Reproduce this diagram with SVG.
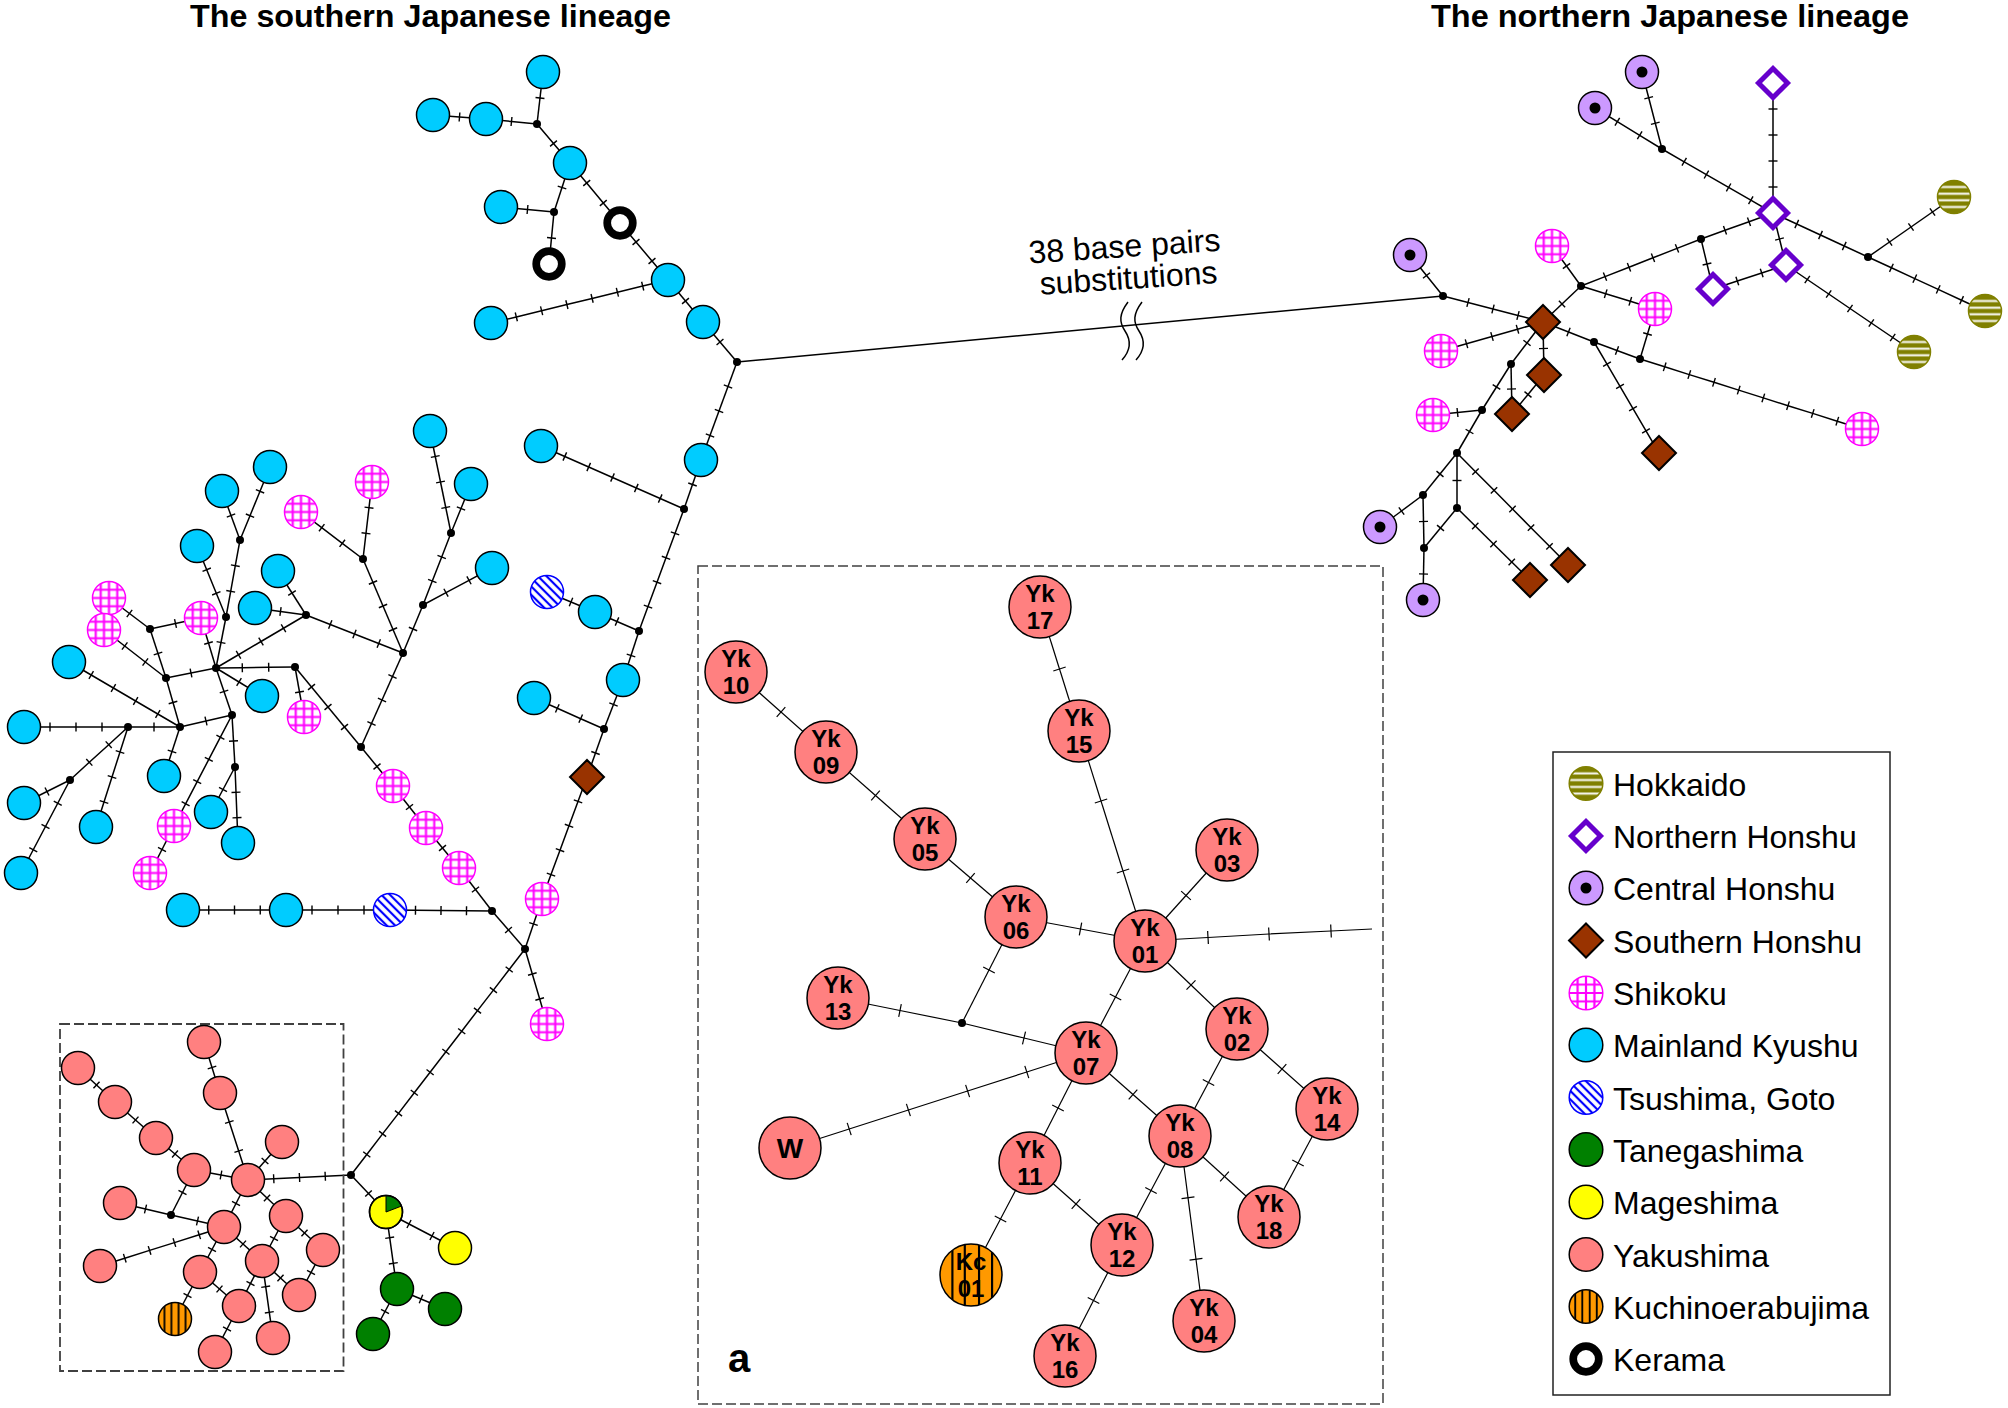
<svg xmlns="http://www.w3.org/2000/svg" xmlns:xlink="http://www.w3.org/1999/xlink" width="2008" height="1408" viewBox="0 0 2008 1408">
<style>
.ln{fill:none;stroke:#000;stroke-width:1.5;marker-mid:url(#tk)}
.li{fill:none;stroke:#000;stroke-width:1.2;marker-mid:url(#tki)}
.ky{fill:#00CCFF;stroke:#000;stroke-width:1.5}
.sk{fill:url(#grid);stroke:#FF00FF;stroke-width:1.5}
.ts{fill:url(#diag);stroke:#0000FF;stroke-width:1.5}
.ho{fill:url(#hstr);stroke:#808000;stroke-width:1.5}
.ch{fill:#CC99FF;stroke:#000;stroke-width:1.5}
.sh{fill:#993300;stroke:#000;stroke-width:2}
.nh{fill:#fff;stroke:#6600CC;stroke-width:5}
.ta{fill:#008000;stroke:#000;stroke-width:1.5}
.mg{fill:#FFFF00;stroke:#000;stroke-width:1.5}
.yk{fill:#FF8080;stroke:#000;stroke-width:1.5}
.kc{fill:url(#vstr);stroke:#000;stroke-width:1.5}
.kc2{fill:url(#vstr2);stroke:#000;stroke-width:1.5}
.ke{fill:#fff;stroke:#000;stroke-width:7.7}
.jd{fill:#000}
.lab{font-family:"Liberation Sans",Arial,sans-serif;font-weight:bold;font-size:24px;text-anchor:middle;fill:#000}
.labw{font-family:"Liberation Sans",Arial,sans-serif;font-weight:bold;font-size:28px;text-anchor:middle;fill:#000}
.leg{font-family:"Liberation Sans",Arial,sans-serif;font-size:32px;fill:#000}
.ttl{font-family:"Liberation Sans",Arial,sans-serif;font-weight:bold;font-size:31px;fill:#000}
.box{fill:none;stroke:#404040;stroke-width:1.8;stroke-dasharray:10 4}
</style>
<defs>
<marker id="tk" markerUnits="userSpaceOnUse" markerWidth="12" markerHeight="12" viewBox="-6 -6 12 12" refX="0" refY="0" orient="auto" overflow="visible"><path d="M0,-4.5V4.5" stroke="#000" stroke-width="1.4"/></marker>
<marker id="tki" markerUnits="userSpaceOnUse" markerWidth="16" markerHeight="16" viewBox="-8 -8 16 16" refX="0" refY="0" orient="auto" overflow="visible"><path d="M0,-6.5V6.5" stroke="#000" stroke-width="1.2"/></marker>
<pattern id="grid" width="1" height="1" patternContentUnits="objectBoundingBox"><rect width="1" height="1" fill="#fff"/><path d="M.25,0V1M.5,0V1M.75,0V1M0,.25H1M0,.5H1M0,.75H1" stroke="#FF00FF" stroke-width=".065"/></pattern>
<pattern id="hstr" width="1" height="1" patternContentUnits="objectBoundingBox"><rect width="1" height="1" fill="#808000"/><path d="M0,.2H1M0,.4H1M0,.6H1M0,.8H1" stroke="#fff" stroke-width=".06"/></pattern>
<pattern id="vstr" width="1" height="1" patternContentUnits="objectBoundingBox"><rect width="1" height="1" fill="#FF9900"/><path d="M.18,0V1M.39,0V1M.61,0V1M.82,0V1" stroke="#000" stroke-width=".055"/></pattern>
<pattern id="vstr2" width="1" height="1" patternContentUnits="objectBoundingBox"><rect width="1" height="1" fill="#FF9900"/><path d="M.2,0V1M.4,0V1M.63,0V1M.84,0V1" stroke="#000" stroke-width=".035"/></pattern>
<pattern id="diag" patternUnits="userSpaceOnUse" width="6" height="6" patternTransform="rotate(-45)"><rect width="6" height="6" fill="#fff"/><path d="M3,0V6" stroke="#0000FF" stroke-width="2.2"/></pattern>
<path id="dSH" d="M0,-17L17,0L0,17L-17,0Z"/>
<path id="dNH" d="M0,-14.5L14.5,0L0,14.5L-14.5,0Z"/>
</defs>
<rect width="2008" height="1408" fill="#fff"/>

<text class="ttl" x="190" y="27" textLength="481" lengthAdjust="spacingAndGlyphs">The southern Japanese lineage</text>
<text class="ttl" x="1431" y="27" textLength="478" lengthAdjust="spacingAndGlyphs">The northern Japanese lineage</text>

<g id="connectors">
<path class="ln" d="M543,72 L540,98 L537,124"/>
<path class="ln" d="M433,115 L459.5,117 L486,119"/>
<path class="ln" d="M486,119 L511.5,121.5 L537,124"/>
<path class="ln" d="M537,124 L553.5,143.5 L570,163"/>
<path class="ln" d="M570,163 L562,187.5 L554,212"/>
<path class="ln" d="M554,212 L527.5,209.5 L501,207"/>
<path class="ln" d="M554,212 L551.5,238 L549,264"/>
<path class="ln" d="M570,163 L586.7,183 L603.3,203 L620,223"/>
<path class="ln" d="M620,223 L636,242 L652,261 L668,280"/>
<path class="ln" d="M491,323 L516.3,316.9 L541.6,310.7 L566.9,304.6 L592.1,298.4 L617.4,292.3 L642.7,286.1 L668,280"/>
<path class="ln" d="M668,280 L685.5,301 L703,322"/>
<path class="ln" d="M703,322 L720,342 L737,362"/>
<path class="ln" d="M737,362 L728,386.5 L719,411 L710,435.5 L701,460"/>
<path class="ln" d="M737,362 L1443,296"/>
<path d="M1128,302 C1119,314 1119,322 1125,331 C1131,340 1131,350 1122,360" fill="none" stroke="#000" stroke-width="1.5"/>
<path d="M1142,302 C1133,314 1133,322 1139,331 C1145,340 1145,350 1136,360" fill="none" stroke="#000" stroke-width="1.5"/>

<path class="ln" d="M701,460 L692.5,484.5 L684,509"/>
<path class="ln" d="M541,446 L564.8,456.5 L588.7,467 L612.5,477.5 L636.3,488 L660.2,498.5 L684,509"/>
<path class="ln" d="M684,509 L675,533.4 L666,557.8 L657,582.2 L648,606.6 L639,631"/>
<path class="ln" d="M547,592 L571,602 L595,612"/>
<path class="ln" d="M595,612 L617,621.5 L639,631"/>
<path class="ln" d="M639,631 L631,655.5 L623,680"/>
<path class="ln" d="M623,680 L613.5,704.5 L604,729"/>
<path class="ln" d="M534,698 L557.3,708.3 L580.7,718.7 L604,729"/>
<path class="ln" d="M604,729 L595.5,753 L587,777"/>
<path class="ln" d="M587,777 L578,801.4 L569,825.8 L560,850.2 L551,874.6 L542,899"/>
<path class="ln" d="M542,899 L533.5,924 L525,949"/>
<path class="ln" d="M525,949 L508.5,930 L492,911"/>
<path class="ln" d="M525,949 L532.3,974 L539.7,999 L547,1024"/>
<path class="ln" d="M525,949 L509.2,969.5 L493.4,990.1 L477.5,1010.6 L461.7,1031.2 L445.9,1051.7 L430.1,1072.3 L414.3,1092.8 L398.5,1113.4 L382.6,1133.9 L366.8,1154.5 L351,1175"/>
<path class="ln" d="M492,911 L475.5,889.5 L459,868"/>
<path class="ln" d="M459,868 L442.5,848 L426,828"/>
<path class="ln" d="M426,828 L409.5,807 L393,786"/>
<path class="ln" d="M393,786 L377,766.5 L361,747"/>
<path class="ln" d="M361,747 L371.5,723.5 L382,700 L392.5,676.5 L403,653"/>
<path class="ln" d="M361,747 L344.5,727 L328,707 L311.5,687 L295,667"/>
<path class="ln" d="M390,910 L415.5,910.25 L441,910.5 L466.5,910.75 L492,911"/>
<path class="ln" d="M286,910 L312,910 L338,910 L364,910 L390,910"/>
<path class="ln" d="M183,910 L208.75,910 L234.5,910 L260.25,910 L286,910"/>
<path class="ln" d="M430,431 L435.25,456.5 L440.5,482 L445.75,507.5 L451,533"/>
<path class="ln" d="M471,484 L461,508.5 L451,533"/>
<path class="ln" d="M451,533 L441.7,557 L432.3,581 L423,605"/>
<path class="ln" d="M423,605 L446,592.7 L469,580.3 L492,568"/>
<path class="ln" d="M423,605 L413,629 L403,653"/>
<path class="ln" d="M363,559 L373,582.5 L383,606 L393,629.5 L403,653"/>
<path class="ln" d="M372,482 L369,507.7 L366,533.3 L363,559"/>
<path class="ln" d="M301,512 L321.7,527.7 L342.3,543.3 L363,559"/>
<path class="ln" d="M306,615 L330.25,624.5 L354.5,634 L378.75,643.5 L403,653"/>
<path class="ln" d="M306,615 L292,593 L278,571"/>
<path class="ln" d="M306,615 L280.5,611.5 L255,608"/>
<path class="ln" d="M216,668 L238.5,654.75 L261,641.5 L283.5,628.25 L306,615"/>
<path class="ln" d="M270,467 L260,491.3 L250,515.7 L240,540"/>
<path class="ln" d="M222,491 L231,515.5 L240,540"/>
<path class="ln" d="M240,540 L235.3,565.7 L230.7,591.3 L226,617"/>
<path class="ln" d="M197,546 L206.7,569.7 L216.3,593.3 L226,617"/>
<path class="ln" d="M226,617 L221,642.5 L216,668"/>
<path class="ln" d="M201,618 L208.5,643 L216,668"/>
<path class="ln" d="M150,629 L175.5,623.5 L201,618"/>
<path class="ln" d="M109,598 L129.5,613.5 L150,629"/>
<path class="ln" d="M104,630 L124.7,646 L145.3,662 L166,678"/>
<path class="ln" d="M150,629 L158,653.5 L166,678"/>
<path class="ln" d="M166,678 L191,673 L216,668"/>
<path class="ln" d="M166,678 L173,702.5 L180,727"/>
<path class="ln" d="M69,662 L91.2,675 L113.4,688 L135.6,701 L157.8,714 L180,727"/>
<path class="ln" d="M180,727 L206,721 L232,715"/>
<path class="ln" d="M216,668 L224,691.5 L232,715"/>
<path class="ln" d="M216,668 L239,682 L262,696"/>
<path class="ln" d="M216,668 L242.3,667.7 L268.7,667.3 L295,667"/>
<path class="ln" d="M295,667 L299.5,692 L304,717"/>
<path class="ln" d="M24,727 L50,727 L76,727 L102,727 L128,727"/>
<path class="ln" d="M128,727 L154,727 L180,727"/>
<path class="ln" d="M128,727 L108.7,744.7 L89.3,762.3 L70,780"/>
<path class="ln" d="M128,727 L120,752 L112,777 L104,802 L96,827"/>
<path class="ln" d="M70,780 L47,791.5 L24,803"/>
<path class="ln" d="M70,780 L57.75,803.25 L45.5,826.5 L33.25,849.75 L21,873"/>
<path class="ln" d="M180,727 L172,751.5 L164,776"/>
<path class="ln" d="M232,715 L233.5,741 L235,767"/>
<path class="ln" d="M232,715 L220.4,737.2 L208.8,759.4 L197.2,781.6 L185.6,803.8 L174,826"/>
<path class="ln" d="M174,826 L162,849.5 L150,873"/>
<path class="ln" d="M235,767 L223,789.5 L211,812"/>
<path class="ln" d="M235,767 L236,792.3 L237,817.7 L238,843"/>

<path class="ln" d="M204,1042 L212,1067.5 L220,1093"/>
<path class="ln" d="M220,1093 L229.3,1122 L238.7,1151 L248,1180"/>
<path class="ln" d="M78,1068 L96.5,1085 L115,1102"/>
<path class="ln" d="M115,1102 L135.5,1120 L156,1138"/>
<path class="ln" d="M156,1138 L175,1154 L194,1170"/>
<path class="ln" d="M194,1170 L221,1175 L248,1180"/>
<path class="ln" d="M282,1142 L265,1161 L248,1180"/>
<path class="ln" d="M248,1180 L273.75,1178.75 L299.5,1177.5 L325.25,1176.25 L351,1175"/>
<path class="ln" d="M194,1170 L182.5,1192.5 L171,1215"/>
<path class="ln" d="M120,1203 L145.5,1209 L171,1215"/>
<path class="ln" d="M171,1215 L197.5,1221 L224,1227"/>
<path class="ln" d="M100,1266 L124.8,1258.2 L149.6,1250.4 L174.4,1242.6 L199.2,1234.8 L224,1227"/>
<path class="ln" d="M248,1180 L236,1203.5 L224,1227"/>
<path class="ln" d="M248,1180 L267,1198 L286,1216"/>
<path class="ln" d="M224,1227 L212,1249.5 L200,1272"/>
<path class="ln" d="M224,1227 L243,1244 L262,1261"/>
<path class="ln" d="M286,1216 L274,1238.5 L262,1261"/>
<path class="ln" d="M286,1216 L304.5,1233 L323,1250"/>
<path class="ln" d="M262,1261 L280.5,1278 L299,1295"/>
<path class="ln" d="M323,1250 L311,1272.5 L299,1295"/>
<path class="ln" d="M200,1272 L187.5,1295.5 L175,1319"/>
<path class="ln" d="M200,1272 L219.5,1289 L239,1306"/>
<path class="ln" d="M262,1261 L250.5,1283.5 L239,1306"/>
<path class="ln" d="M239,1306 L227,1329 L215,1352"/>
<path class="ln" d="M262,1261 L265.7,1286.7 L269.3,1312.3 L273,1338"/>

<path class="ln" d="M351,1175 L368.5,1193.5 L386,1212"/>
<path class="ln" d="M386,1212 L409,1224 L432,1236 L455,1248"/>
<path class="ln" d="M386,1212 L389.7,1237.7 L393.3,1263.3 L397,1289"/>
<path class="ln" d="M397,1289 L421,1299 L445,1309"/>
<path class="ln" d="M397,1289 L385,1311.5 L373,1334"/>

<path class="ln" d="M1443,296 L1426.5,275.5 L1410,255"/>
<path class="ln" d="M1443,296 L1468,302.5 L1493,309 L1518,315.5 L1543,322"/>
<path class="ln" d="M1441,351 L1466.5,343.75 L1492,336.5 L1517.5,329.25 L1543,322"/>
<path class="ln" d="M1543,322 L1562,304 L1581,286"/>
<path class="ln" d="M1552,246 L1566.5,266 L1581,286"/>
<path class="ln" d="M1581,286 L1605.7,293.7 L1630.3,301.3 L1655,309"/>
<path class="ln" d="M1581,286 L1605,276.6 L1629,267.2 L1653,257.8 L1677,248.4 L1701,239"/>
<path class="ln" d="M1701,239 L1725,230.3 L1749,221.7 L1773,213"/>
<path class="ln" d="M1701,239 L1707,264 L1713,289"/>
<path class="ln" d="M1713,289 L1737.3,281 L1761.7,273 L1786,265"/>
<path class="ln" d="M1773,213 L1779.5,239 L1786,265"/>
<path class="ln" d="M1786,265 L1807.3,279.5 L1828.7,294 L1850,308.5 L1871.3,323 L1892.7,337.5 L1914,352"/>
<path class="ln" d="M1773,213 L1796.75,224 L1820.5,235 L1844.25,246 L1868,257"/>
<path class="ln" d="M1868,257 L1889.5,242 L1911,227 L1932.5,212 L1954,197"/>
<path class="ln" d="M1868,257 L1891.4,267.8 L1914.8,278.6 L1938.2,289.4 L1961.6,300.2 L1985,311"/>
<path class="ln" d="M1773,83 L1773,109 L1773,135 L1773,161 L1773,187 L1773,213"/>
<path class="ln" d="M1662,149 L1684.2,161.8 L1706.4,174.6 L1728.6,187.4 L1750.8,200.2 L1773,213"/>
<path class="ln" d="M1642,72 L1648.7,97.7 L1655.3,123.3 L1662,149"/>
<path class="ln" d="M1595,108 L1617.3,121.7 L1639.7,135.3 L1662,149"/>
<path class="ln" d="M1543,322 L1568.5,332 L1594,342"/>
<path class="ln" d="M1594,342 L1617,350.5 L1640,359"/>
<path class="ln" d="M1640,359 L1647.5,334 L1655,309"/>
<path class="ln" d="M1640,359 L1664.7,366.8 L1689.3,374.6 L1714,382.3 L1738.7,390.1 L1763.3,397.9 L1788,405.7 L1812.7,413.4 L1837.3,421.2 L1862,429"/>
<path class="ln" d="M1594,342 L1607,364.2 L1620,386.4 L1633,408.6 L1646,430.8 L1659,453"/>
<path class="ln" d="M1543,322 L1543.5,348.5 L1544,375"/>
<path class="ln" d="M1544,375 L1528,394.5 L1512,414"/>
<path class="ln" d="M1543,322 L1527,343 L1511,364"/>
<path class="ln" d="M1511,364 L1511.5,389 L1512,414"/>
<path class="ln" d="M1511,364 L1496.5,387 L1482,410"/>
<path class="ln" d="M1482,410 L1457.5,412.5 L1433,415"/>
<path class="ln" d="M1482,410 L1469.5,431.5 L1457,453"/>
<path class="ln" d="M1457,453 L1440,474 L1423,495"/>
<path class="ln" d="M1423,495 L1401.5,511 L1380,527"/>
<path class="ln" d="M1423,495 L1423.5,521.5 L1424,548"/>
<path class="ln" d="M1457,453 L1457,480.5 L1457,508"/>
<path class="ln" d="M1457,508 L1440.5,528 L1424,548"/>
<path class="ln" d="M1424,548 L1423.5,574 L1423,600"/>
<path class="ln" d="M1457,508 L1475.25,526 L1493.5,544 L1511.75,562 L1530,580"/>
<path class="ln" d="M1457,453 L1475.5,471.7 L1494,490.3 L1512.5,509 L1531,527.7 L1549.5,546.3 L1568,565"/>

<path class="li" d="M1040,607 L1059.5,669 L1079,731"/>
<path class="li" d="M1079,731 L1101,801 L1123,871 L1145,941"/>
<path class="li" d="M736,672 L781,712 L826,752"/>
<path class="li" d="M826,752 L875.5,795.5 L925,839"/>
<path class="li" d="M925,839 L970.5,878 L1016,917"/>
<path class="li" d="M1016,917 L1080.5,929 L1145,941"/>
<path class="li" d="M1227,850 L1186,895.5 L1145,941"/>
<path class="li" d="M1145,941 L1208,937.5 L1269,934 L1331,931 L1372,929"/>
<path class="li" d="M1016,917 L989,970 L962,1023"/>
<path class="li" d="M838,998 L900,1010.5 L962,1023"/>
<path class="li" d="M962,1023 L1024,1038 L1086,1053"/>
<path class="li" d="M790,1148 L849.2,1129 L908.4,1110 L967.6,1091 L1026.8,1072 L1086,1053"/>
<path class="li" d="M1145,941 L1115.5,997 L1086,1053"/>
<path class="li" d="M1145,941 L1191,985 L1237,1029"/>
<path class="li" d="M1086,1053 L1058,1108 L1030,1163"/>
<path class="li" d="M1086,1053 L1133,1094.5 L1180,1136"/>
<path class="li" d="M1237,1029 L1208.5,1082.5 L1180,1136"/>
<path class="li" d="M1237,1029 L1282,1069 L1327,1109"/>
<path class="li" d="M1180,1136 L1224.5,1176.5 L1269,1217"/>
<path class="li" d="M1327,1109 L1298,1163 L1269,1217"/>
<path class="li" d="M1030,1163 L1000.5,1219 L971,1275"/>
<path class="li" d="M1030,1163 L1076,1204 L1122,1245"/>
<path class="li" d="M1180,1136 L1151,1190.5 L1122,1245"/>
<path class="li" d="M1122,1245 L1093.5,1300.5 L1065,1356"/>
<path class="li" d="M1180,1136 L1188,1197.7 L1196,1259.3 L1204,1321"/>
</g>

<text class="leg" transform="rotate(-3.8 1127 272)" text-anchor="middle"><tspan x="1126" y="257">38 base pairs</tspan><tspan x="1128" y="289">substitutions</tspan></text>

<rect class="box" x="60" y="1024" width="283.5" height="347"/>
<rect class="box" x="698" y="566" width="685" height="838" style="stroke-width:1.5"/>
<text x="728" y="1372" style="font-family:'Liberation Sans',Arial,sans-serif;font-weight:bold;font-size:40px">a</text>

<g id="junctions">
<circle class="jd" cx="537" cy="124" r="4"/><circle class="jd" cx="554" cy="212" r="4"/><circle class="jd" cx="737" cy="362" r="4"/>
<circle class="jd" cx="684" cy="509" r="4"/><circle class="jd" cx="451" cy="533" r="4"/><circle class="jd" cx="423" cy="605" r="4"/>
<circle class="jd" cx="363" cy="559" r="4"/><circle class="jd" cx="240" cy="540" r="4"/><circle class="jd" cx="306" cy="615" r="4"/>
<circle class="jd" cx="403" cy="653" r="4"/><circle class="jd" cx="639" cy="631" r="4"/><circle class="jd" cx="604" cy="729" r="4"/>
<circle class="jd" cx="150" cy="629" r="4"/><circle class="jd" cx="226" cy="617" r="4"/><circle class="jd" cx="166" cy="678" r="4"/>
<circle class="jd" cx="216" cy="668" r="4"/><circle class="jd" cx="295" cy="667" r="4"/><circle class="jd" cx="232" cy="715" r="4"/>
<circle class="jd" cx="180" cy="727" r="4"/><circle class="jd" cx="128" cy="727" r="4"/><circle class="jd" cx="70" cy="780" r="4"/>
<circle class="jd" cx="235" cy="767" r="4"/><circle class="jd" cx="361" cy="747" r="4"/><circle class="jd" cx="492" cy="911" r="4"/>
<circle class="jd" cx="525" cy="949" r="4"/><circle class="jd" cx="351" cy="1175" r="4"/><circle class="jd" cx="171" cy="1215" r="4"/>
<circle class="jd" cx="1662" cy="149" r="4"/><circle class="jd" cx="1868" cy="257" r="4"/><circle class="jd" cx="1701" cy="239" r="4"/>
<circle class="jd" cx="1581" cy="286" r="4"/><circle class="jd" cx="1443" cy="296" r="4"/><circle class="jd" cx="1594" cy="342" r="4"/>
<circle class="jd" cx="1640" cy="359" r="4"/><circle class="jd" cx="1511" cy="364" r="4"/><circle class="jd" cx="1482" cy="410" r="4"/>
<circle class="jd" cx="1457" cy="453" r="4"/><circle class="jd" cx="1423" cy="495" r="4"/><circle class="jd" cx="1457" cy="508" r="4"/>
<circle class="jd" cx="1424" cy="548" r="4"/><circle class="jd" cx="962" cy="1023" r="4"/>
</g>

<g id="n-ky-c1"><circle class="ky" cx="543" cy="72" r="16.5"/></g>
<g id="n-ky-c2"><circle class="ky" cx="433" cy="115" r="16.5"/></g>
<g id="n-ky-c3"><circle class="ky" cx="486" cy="119" r="16.5"/></g>
<g id="n-ky-c4"><circle class="ky" cx="570" cy="163" r="16.5"/></g>
<g id="n-ky-c5"><circle class="ky" cx="501" cy="207" r="16.5"/></g>
<g id="n-ke-1"><circle class="ke" cx="620" cy="223" r="12.8"/></g>
<g id="n-ke-2"><circle class="ke" cx="549" cy="264" r="12.8"/></g>
<g id="n-ky-c6"><circle class="ky" cx="668" cy="280" r="16.5"/></g>
<g id="n-ky-c7"><circle class="ky" cx="491" cy="323" r="16.5"/></g>
<g id="n-ky-c8"><circle class="ky" cx="703" cy="322" r="16.5"/></g>
<g id="n-ky-c9"><circle class="ky" cx="701" cy="460" r="16.5"/></g>

<g id="n-ky-l1"><circle class="ky" cx="430" cy="431" r="16.5"/></g>
<g id="n-ky-l2"><circle class="ky" cx="541" cy="446" r="16.5"/></g>
<g id="n-ky-l4"><circle class="ky" cx="270" cy="467" r="16.5"/></g>
<g id="n-ky-l5"><circle class="ky" cx="222" cy="491" r="16.5"/></g>
<g id="n-ky-l6"><circle class="ky" cx="471" cy="484" r="16.5"/></g>
<g id="n-ky-l7"><circle class="ky" cx="492" cy="568" r="16.5"/></g>
<g id="n-ky-l8"><circle class="ky" cx="197" cy="546" r="16.5"/></g>
<g id="n-ky-l9"><circle class="ky" cx="278" cy="571" r="16.5"/></g>
<g id="n-ky-l10"><circle class="ky" cx="255" cy="608" r="16.5"/></g>
<g id="n-ky-l11"><circle class="ky" cx="595" cy="612" r="16.5"/></g>
<g id="n-ky-l12"><circle class="ky" cx="623" cy="680" r="16.5"/></g>
<g id="n-ky-l13"><circle class="ky" cx="534" cy="698" r="16.5"/></g>
<g id="n-ky-l14"><circle class="ky" cx="69" cy="662" r="16.5"/></g>
<g id="n-ky-l15"><circle class="ky" cx="262" cy="696" r="16.5"/></g>
<g id="n-ky-l16"><circle class="ky" cx="24" cy="727" r="16.5"/></g>
<g id="n-ky-l17"><circle class="ky" cx="24" cy="803" r="16.5"/></g>
<g id="n-ky-l18"><circle class="ky" cx="21" cy="873" r="16.5"/></g>
<g id="n-ky-l19"><circle class="ky" cx="96" cy="827" r="16.5"/></g>
<g id="n-ky-l20"><circle class="ky" cx="164" cy="776" r="16.5"/></g>
<g id="n-ky-l21"><circle class="ky" cx="211" cy="812" r="16.5"/></g>
<g id="n-ky-l22"><circle class="ky" cx="238" cy="843" r="16.5"/></g>
<g id="n-ky-l23"><circle class="ky" cx="183" cy="910" r="16.5"/></g>
<g id="n-ky-l24"><circle class="ky" cx="286" cy="910" r="16.5"/></g>

<g id="n-sk-6"><circle class="sk" cx="372" cy="482" r="16.5"/></g>
<g id="n-sk-7"><circle class="sk" cx="301" cy="512" r="16.5"/></g>
<g id="n-sk-8"><circle class="sk" cx="542" cy="899" r="16.5"/></g>
<g id="n-sk-9"><circle class="sk" cx="109" cy="598" r="16.5"/></g>
<g id="n-sk-10"><circle class="sk" cx="104" cy="630" r="16.5"/></g>
<g id="n-sk-11"><circle class="sk" cx="201" cy="618" r="16.5"/></g>
<g id="n-sk-12"><circle class="sk" cx="304" cy="717" r="16.5"/></g>
<g id="n-sk-13"><circle class="sk" cx="174" cy="826" r="16.5"/></g>
<g id="n-sk-14"><circle class="sk" cx="150" cy="873" r="16.5"/></g>
<g id="n-sk-15"><circle class="sk" cx="393" cy="786" r="16.5"/></g>
<g id="n-sk-16"><circle class="sk" cx="426" cy="828" r="16.5"/></g>
<g id="n-sk-17"><circle class="sk" cx="459" cy="868" r="16.5"/></g>
<g id="n-sk-18"><circle class="sk" cx="547" cy="1024" r="16.5"/></g>
<g id="n-ts-1"><circle class="ts" cx="547" cy="592" r="16.5"/></g>
<g id="n-ts-2"><circle class="ts" cx="390" cy="910" r="16.5"/></g>
<g id="n-sh-7"><use xlink:href="#dSH" href="#dSH" x="587" y="777" class="sh"/></g>

<g id="n-mg-1"><circle class="mg" cx="386" cy="1212" r="16.5"/><path d="M386,1212 L386,1195.5 A16.5,16.5 0 0 1 401.4,1206.1 Z" fill="#008000" stroke="#000" stroke-width="1"/><circle cx="386" cy="1212" r="16.5" fill="none" stroke="#000" stroke-width="1.5"/></g>
<g id="n-mg-2"><circle class="mg" cx="455" cy="1248" r="16.5"/></g>
<g id="n-ta-1"><circle class="ta" cx="397" cy="1289" r="16.5"/></g>
<g id="n-ta-2"><circle class="ta" cx="445" cy="1309" r="16.5"/></g>
<g id="n-ta-3"><circle class="ta" cx="373" cy="1334" r="16.5"/></g>

<g id="n-yk-mini">
<circle class="yk" cx="204" cy="1042" r="16.5"/>
<circle class="yk" cx="78" cy="1068" r="16.5"/>
<circle class="yk" cx="220" cy="1093" r="16.5"/>
<circle class="yk" cx="115" cy="1102" r="16.5"/>
<circle class="yk" cx="156" cy="1138" r="16.5"/>
<circle class="yk" cx="282" cy="1142" r="16.5"/>
<circle class="yk" cx="194" cy="1170" r="16.5"/>
<circle class="yk" cx="248" cy="1180" r="16.5"/>
<circle class="yk" cx="120" cy="1203" r="16.5"/>
<circle class="yk" cx="286" cy="1216" r="16.5"/>
<circle class="yk" cx="224" cy="1227" r="16.5"/>
<circle class="yk" cx="323" cy="1250" r="16.5"/>
<circle class="yk" cx="100" cy="1266" r="16.5"/>
<circle class="yk" cx="262" cy="1261" r="16.5"/>
<circle class="yk" cx="200" cy="1272" r="16.5"/>
<circle class="yk" cx="299" cy="1295" r="16.5"/>
<circle class="yk" cx="239" cy="1306" r="16.5"/>
<circle class="kc" cx="175" cy="1319" r="16.5"/>
<circle class="yk" cx="273" cy="1338" r="16.5"/>
<circle class="yk" cx="215" cy="1352" r="16.5"/>
</g>

<g id="n-ch-1"><circle class="ch" cx="1642" cy="72" r="16.5"/><circle class="jd" cx="1642" cy="72" r="5.5"/></g>
<g id="n-ch-2"><circle class="ch" cx="1595" cy="108" r="16.5"/><circle class="jd" cx="1595" cy="108" r="5.5"/></g>
<g id="n-ch-3"><circle class="ch" cx="1410" cy="255" r="16.5"/><circle class="jd" cx="1410" cy="255" r="5.5"/></g>
<g id="n-ch-4"><circle class="ch" cx="1380" cy="527" r="16.5"/><circle class="jd" cx="1380" cy="527" r="5.5"/></g>
<g id="n-ch-5"><circle class="ch" cx="1423" cy="600" r="16.5"/><circle class="jd" cx="1423" cy="600" r="5.5"/></g>
<g id="n-nh-1"><use xlink:href="#dNH" href="#dNH" x="1773" y="83" class="nh"/></g>
<g id="n-nh-2"><use xlink:href="#dNH" href="#dNH" x="1773" y="213" class="nh"/></g>
<g id="n-nh-3"><use xlink:href="#dNH" href="#dNH" x="1786" y="265" class="nh"/></g>
<g id="n-nh-4"><use xlink:href="#dNH" href="#dNH" x="1713" y="289" class="nh"/></g>
<g id="n-ho-1"><circle class="ho" cx="1954" cy="197" r="16.5"/></g>
<g id="n-ho-2"><circle class="ho" cx="1985" cy="311" r="16.5"/></g>
<g id="n-ho-3"><circle class="ho" cx="1914" cy="352" r="16.5"/></g>
<g id="n-sk-n1"><circle class="sk" cx="1552" cy="246" r="16.5"/></g>
<g id="n-sk-n2"><circle class="sk" cx="1655" cy="309" r="16.5"/></g>
<g id="n-sk-n3"><circle class="sk" cx="1441" cy="351" r="16.5"/></g>
<g id="n-sk-n4"><circle class="sk" cx="1433" cy="415" r="16.5"/></g>
<g id="n-sk-n5"><circle class="sk" cx="1862" cy="429" r="16.5"/></g>
<g id="n-sh-1"><use xlink:href="#dSH" href="#dSH" x="1543" y="322" class="sh"/></g>
<g id="n-sh-2"><use xlink:href="#dSH" href="#dSH" x="1544" y="375" class="sh"/></g>
<g id="n-sh-3"><use xlink:href="#dSH" href="#dSH" x="1512" y="414" class="sh"/></g>
<g id="n-sh-4"><use xlink:href="#dSH" href="#dSH" x="1659" y="453" class="sh"/></g>
<g id="n-sh-5"><use xlink:href="#dSH" href="#dSH" x="1530" y="580" class="sh"/></g>
<g id="n-sh-6"><use xlink:href="#dSH" href="#dSH" x="1568" y="565" class="sh"/></g>

<g id="n-yk17"><circle class="yk" cx="1040" cy="607" r="31"/><text class="lab"><tspan x="1040" y="602">Yk</tspan><tspan x="1040" y="629">17</tspan></text></g>
<g id="n-yk10"><circle class="yk" cx="736" cy="672" r="31"/><text class="lab"><tspan x="736" y="667">Yk</tspan><tspan x="736" y="694">10</tspan></text></g>
<g id="n-yk15"><circle class="yk" cx="1079" cy="731" r="31"/><text class="lab"><tspan x="1079" y="726">Yk</tspan><tspan x="1079" y="753">15</tspan></text></g>
<g id="n-yk09"><circle class="yk" cx="826" cy="752" r="31"/><text class="lab"><tspan x="826" y="747">Yk</tspan><tspan x="826" y="774">09</tspan></text></g>
<g id="n-yk05"><circle class="yk" cx="925" cy="839" r="31"/><text class="lab"><tspan x="925" y="834">Yk</tspan><tspan x="925" y="861">05</tspan></text></g>
<g id="n-yk03"><circle class="yk" cx="1227" cy="850" r="31"/><text class="lab"><tspan x="1227" y="845">Yk</tspan><tspan x="1227" y="872">03</tspan></text></g>
<g id="n-yk06"><circle class="yk" cx="1016" cy="917" r="31"/><text class="lab"><tspan x="1016" y="912">Yk</tspan><tspan x="1016" y="939">06</tspan></text></g>
<g id="n-yk01"><circle class="yk" cx="1145" cy="941" r="31"/><text class="lab"><tspan x="1145" y="936">Yk</tspan><tspan x="1145" y="963">01</tspan></text></g>
<g id="n-yk13"><circle class="yk" cx="838" cy="998" r="31"/><text class="lab"><tspan x="838" y="993">Yk</tspan><tspan x="838" y="1020">13</tspan></text></g>
<g id="n-yk02"><circle class="yk" cx="1237" cy="1029" r="31"/><text class="lab"><tspan x="1237" y="1024">Yk</tspan><tspan x="1237" y="1051">02</tspan></text></g>
<g id="n-yk07"><circle class="yk" cx="1086" cy="1053" r="31"/><text class="lab"><tspan x="1086" y="1048">Yk</tspan><tspan x="1086" y="1075">07</tspan></text></g>
<g id="n-yk14"><circle class="yk" cx="1327" cy="1109" r="31"/><text class="lab"><tspan x="1327" y="1104">Yk</tspan><tspan x="1327" y="1131">14</tspan></text></g>
<g id="n-w"><circle class="yk" cx="790" cy="1148" r="31"/><text class="labw" x="790" y="1158">W</text></g>
<g id="n-yk08"><circle class="yk" cx="1180" cy="1136" r="31"/><text class="lab"><tspan x="1180" y="1131">Yk</tspan><tspan x="1180" y="1158">08</tspan></text></g>
<g id="n-yk11"><circle class="yk" cx="1030" cy="1163" r="31"/><text class="lab"><tspan x="1030" y="1158">Yk</tspan><tspan x="1030" y="1185">11</tspan></text></g>
<g id="n-yk18"><circle class="yk" cx="1269" cy="1217" r="31"/><text class="lab"><tspan x="1269" y="1212">Yk</tspan><tspan x="1269" y="1239">18</tspan></text></g>
<g id="n-yk12"><circle class="yk" cx="1122" cy="1245" r="31"/><text class="lab"><tspan x="1122" y="1240">Yk</tspan><tspan x="1122" y="1267">12</tspan></text></g>
<g id="n-kc01"><circle class="kc2" cx="971" cy="1275" r="31"/><text class="lab"><tspan x="971" y="1270">Kc</tspan><tspan x="971" y="1297">01</tspan></text></g>
<g id="n-yk04"><circle class="yk" cx="1204" cy="1321" r="31"/><text class="lab"><tspan x="1204" y="1316">Yk</tspan><tspan x="1204" y="1343">04</tspan></text></g>
<g id="n-yk16"><circle class="yk" cx="1065" cy="1356" r="31"/><text class="lab"><tspan x="1065" y="1351">Yk</tspan><tspan x="1065" y="1378">16</tspan></text></g>

<g id="legend">
<rect x="1553" y="752" width="337" height="643" fill="#fff" stroke="#222" stroke-width="1.5"/>
<circle class="ho" cx="1586" cy="783.5" r="16.8"/><text class="leg" x="1613" y="795.5">Hokkaido</text>
<use xlink:href="#dNH" href="#dNH" x="1586" y="836" class="nh"/><text class="leg" x="1613" y="848">Northern Honshu</text>
<circle class="ch" cx="1586" cy="888" r="16.8"/><circle class="jd" cx="1586" cy="888" r="5.5"/><text class="leg" x="1613" y="900">Central Honshu</text>
<use xlink:href="#dSH" href="#dSH" x="1586" y="940.5" class="sh"/><text class="leg" x="1613" y="952.5">Southern Honshu</text>
<circle class="sk" cx="1586" cy="993" r="16.8"/><text class="leg" x="1613" y="1005">Shikoku</text>
<circle class="ky" cx="1586" cy="1045" r="16.8"/><text class="leg" x="1613" y="1057">Mainland Kyushu</text>
<circle class="ts" cx="1586" cy="1097.5" r="16.8"/><text class="leg" x="1613" y="1109.5">Tsushima, Goto</text>
<circle class="ta" cx="1586" cy="1149.5" r="16.8"/><text class="leg" x="1613" y="1161.5">Tanegashima</text>
<circle class="mg" cx="1586" cy="1202" r="16.8"/><text class="leg" x="1613" y="1214">Mageshima</text>
<circle class="yk" cx="1586" cy="1254.5" r="16.8"/><text class="leg" x="1613" y="1266.5">Yakushima</text>
<circle class="kc" cx="1586" cy="1306.5" r="16.8"/><text class="leg" x="1613" y="1318.5">Kuchinoerabujima</text>
<circle class="ke" cx="1586" cy="1359" r="12.8"/><text class="leg" x="1613" y="1371">Kerama</text>
</g>
</svg>
